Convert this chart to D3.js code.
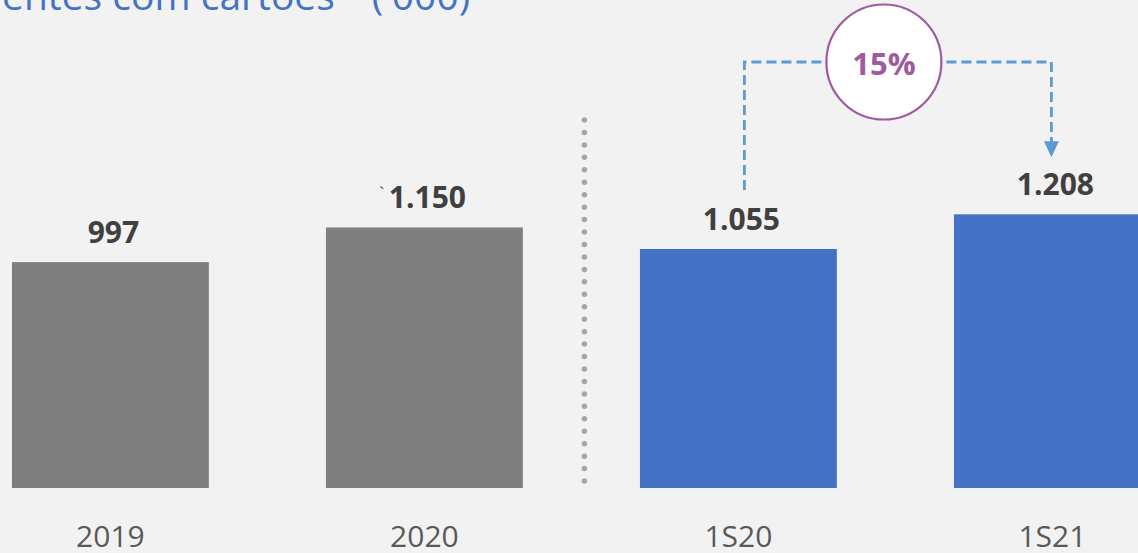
<!DOCTYPE html>
<html><head><meta charset="utf-8">
<script src="https://cdn.jsdelivr.net/npm/d3@7"></script>
<style>body{margin:0;background:#f2f2f2;}svg{display:block;}</style>
</head><body>
<svg id="c" width="1138" height="553"></svg>
<script>
const categories = ["2019", "2020", "1S20", "1S21"];
const values = [997, 1150, 1055, 1208];
const valueLabels = ["997", "1.150", "1.055", "1.208"];
const groups = ["ano", "ano", "semestre", "semestre"];
const growthLabel = "15%";

const W = 1138, H = 553;
const svg = d3.select("#c");
svg.append("rect").attr("width", W).attr("height", H).attr("fill", "#f2f2f2");

const x = d3.scaleBand().domain(categories).range([-46.6, 1209.4]).paddingInner(0.373).paddingOuter(0.1865);
const y = d3.scaleLinear().domain([0, 2154]).range([488, 0]);
const color = d3.scaleOrdinal().domain(["ano", "semestre"]).range(["#7f7f7f", "#4472c4"]);

// Title (clipped at top-left like the reference)
const tFont = {family: "Open Sans, sans-serif", size: 39};
svg.append("text").attr("x", 2).attr("y", 10).attr("text-anchor", "end")
  .attr("font-family", tFont.family).attr("font-size", tFont.size).attr("fill", "#4472c4").text("Cli");
const title = svg.append("text").attr("x", 2).attr("y", 10).attr("font-family", tFont.family)
  .attr("font-size", tFont.size).attr("fill", "#4472c4");
title.append("tspan").text("entes com cartões");
title.append("tspan").attr("font-size", 17).attr("dx", 3).attr("dy", -16).attr("fill", "#8faadc").text("(1)");
title.append("tspan").attr("dy", 16).attr("dx", 4).text(" ('000)");

// Bars
svg.selectAll("rect.bar").data(categories).join("rect").attr("class", "bar")
  .attr("x", d => x(d)).attr("width", x.bandwidth())
  .attr("y", (d, i) => y(values[i])).attr("height", (d, i) => y(0) - y(values[i]))
  .attr("fill", (d, i) => color(groups[i]));

// Value labels
svg.selectAll("text.val").data(categories).join("text").attr("class", "val")
  .attr("x", d => x(d) + x.bandwidth() / 2 + 3)
  .attr("y", (d, i) => y(values[i]) - 19)
  .attr("text-anchor", "middle").attr("font-family", "Open Sans, sans-serif")
  .attr("font-weight", 700).attr("font-size", 30).attr("fill", "#404040")
  .text((d, i) => valueLabels[i]);

// small stray mark near 1.150
svg.append("text").attr("x", x("2020") + x.bandwidth() / 2 - 45).attr("y", y(1150) - 28)
  .attr("font-family", "Open Sans, sans-serif").attr("font-size", 16).attr("fill", "#404040").text("`");

// Category axis labels
const axis = svg.append("g").attr("transform", "translate(0,488)")
  .call(d3.axisBottom(x).tickSize(0).tickPadding(36));
axis.select(".domain").remove();
axis.selectAll("text").attr("font-family", "Open Sans, sans-serif").attr("font-size", 30)
  .attr("fill", "#595959").attr("dy", 0).attr("y", 59).attr("dominant-baseline", "auto");

// Dotted separator
const sepX = (x("2020") + x.bandwidth() + x("1S20")) / 2 + 3;
svg.append("line").attr("x1", sepX).attr("x2", sepX).attr("y1", 120).attr("y2", 482)
  .attr("stroke", "#a6a6a6").attr("stroke-width", 5.5).attr("stroke-linecap", "round")
  .attr("stroke-dasharray", "0 12.45");

// Growth annotation
const xa = x("1S20") + x.bandwidth() / 2 + 6;
const xb = x("1S21") + x.bandwidth() / 2 - 1;
const topY = 62;
svg.append("path").attr("d", `M${xa},${y(1055) - 59}V${topY}H${xb}V${y(1208) - 70}`)
  .attr("fill", "none").attr("stroke", "#5b9bd5").attr("stroke-width", 2.8).attr("stroke-dasharray", "10 5");
svg.append("path").attr("d", `M${xb - 7.5},${y(1208) - 73}L${xb + 7.5},${y(1208) - 73}L${xb},${y(1208) - 57}Z`)
  .attr("fill", "#5b9bd5");
const cx = (xa + xb) / 2 - 14;
svg.append("circle").attr("cx", cx).attr("cy", topY).attr("r", 57.5)
  .attr("fill", "#ffffff").attr("stroke", "#a05aa0").attr("stroke-width", 2.2);
svg.append("text").attr("x", cx).attr("y", 75).attr("text-anchor", "middle")
  .attr("font-family", "Open Sans, sans-serif").attr("font-weight", 700).attr("font-size", 31)
  .attr("fill", "#a05aa0").text(growthLabel);
</script>
</body></html>
